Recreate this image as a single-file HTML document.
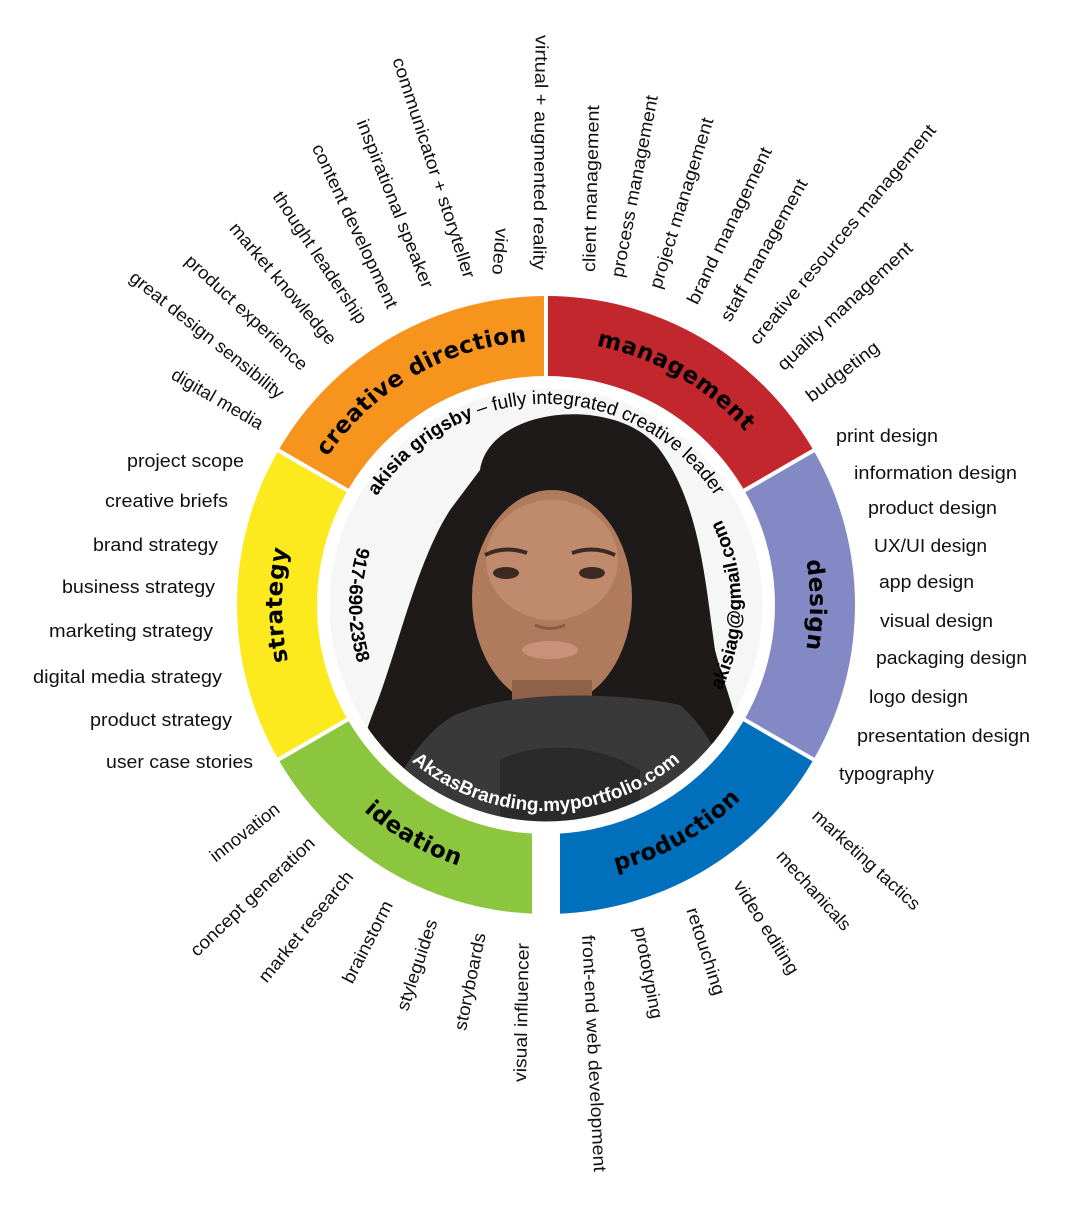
<!DOCTYPE html>
<html><head><meta charset="utf-8"><style>
html,body{margin:0;padding:0;background:#fff;}
svg{display:block;}
.l{font-family:"Liberation Sans",sans-serif;font-size:18px;fill:#111;}
.seg{font-family:"DejaVu Sans",sans-serif;font-weight:bold;font-size:23px;letter-spacing:0.5px;fill:#000;}
.band{font-family:"Liberation Sans",sans-serif;font-size:19px;fill:#000;}
</style></head><body>
<svg width="1066" height="1210" viewBox="0 0 1066 1210" xmlns="http://www.w3.org/2000/svg">
<defs>
<clipPath id="pc"><circle cx="546" cy="605" r="218"/></clipPath>
<path id="pcd" d="M317.4,473 A264,264 0 0 1 546,341"/>
<path id="pmg" d="M546,341 A264,264 0 0 1 774.6,473"/>
<path id="pds" d="M774.6,473 A264,264 0 0 1 774.6,737"/>
<path id="pst" d="M317.4,737 A264,264 0 0 1 317.4,473"/>
<path id="ppr" d="M546,880 A275,275 0 0 0 784.2,742.5"/>
<path id="pid" d="M307.8,742.5 A275,275 0 0 0 546,880"/>
<path id="pname" d="M351.8,553 A201,201 0 0 1 740.2,553"/>
<path id="pphone" d="M360.9,537.6 A197,197 0 0 0 360.9,672.4"/>
<path id="pmail" d="M714.9,702.5 A195,195 0 0 0 714.9,507.5"/>
<path id="pweb" d="M388.2,737.4 A206,206 0 0 0 703.8,737.4"/>
</defs>

<path fill="#F7941D" d="M546,296 A309,309 0 0 0 278.4,450.5 L348.5,491 A228,228 0 0 1 546,377 Z"/>
<path fill="#C1272D" d="M813.6,450.5 A309,309 0 0 0 546,296 L546,377 A228,228 0 0 1 743.5,491 Z"/>
<path fill="#8289C4" d="M813.6,759.5 A309,309 0 0 0 813.6,450.5 L743.5,491 A228,228 0 0 1 743.5,719 Z"/>
<path fill="#0070BC" d="M546,914 A309,309 0 0 0 813.6,759.5 L743.5,719 A228,228 0 0 1 546,833 Z"/>
<path fill="#8CC63F" d="M278.4,759.5 A309,309 0 0 0 546,914 L546,833 A228,228 0 0 1 348.5,719 Z"/>
<path fill="#FCEA1F" d="M278.4,450.5 A309,309 0 0 0 278.4,759.5 L348.5,719 A228,228 0 0 1 348.5,491 Z"/>
<g stroke="#fff" stroke-width="4">
<line x1="546" y1="605" x2="546" y2="285"/>
<line x1="546" y1="605" x2="823" y2="445"/>
<line x1="546" y1="605" x2="823" y2="765"/>
<line x1="546" y1="605" x2="269" y2="445"/>
<line x1="546" y1="605" x2="269" y2="765"/>
</g>
<rect x="532" y="800" width="28" height="120" fill="#fff"/>
<circle cx="546" cy="605" r="229" fill="#fff"/>

<g clip-path="url(#pc)">
<rect x="320" y="380" width="460" height="460" fill="#f6f6f6"/>
<path fill="#1d1a19" d="M480,470 C490,405 620,395 660,450 C700,505 705,580 715,650 C728,700 750,740 738,790 L725,840 L362,840 C345,790 362,740 378,700 C400,640 418,560 450,510 Z"/>
<ellipse cx="552" cy="598" rx="80" ry="108" fill="#b07a5c"/>
<ellipse cx="552" cy="560" rx="66" ry="60" fill="#c08a6c"/>
<path fill="#1d1a19" d="M470,540 C480,470 530,450 560,455 C610,455 640,490 640,540 C620,500 580,480 555,482 C520,482 485,505 470,540 Z"/>
<rect x="512" y="680" width="80" height="40" fill="#8f6149"/>
<path fill="#3a3939" d="M440,725 C480,690 610,690 680,705 C720,740 740,800 730,840 L370,840 C390,790 410,750 440,725 Z"/>
<path fill="#2a2a2a" d="M500,760 C540,740 600,745 640,770 L640,840 L500,840 Z"/>
<g fill="#3b2a22"><ellipse cx="506" cy="573" rx="13" ry="6"/><ellipse cx="592" cy="573" rx="13" ry="6"/></g>
<g stroke="#3a2a22" stroke-width="4" fill="none"><path d="M485,555 Q505,545 527,553"/><path d="M572,553 Q594,545 615,555"/></g>
<ellipse cx="550" cy="650" rx="28" ry="9" fill="#c9917a"/>
<path d="M535,625 Q550,632 565,625" stroke="#8a5a44" stroke-width="3" fill="none"/>
</g>
<circle cx="546" cy="605" r="218" fill="none" stroke="#fff" stroke-width="3"/>

<text class="seg"><textPath href="#pcd" startOffset="50%" text-anchor="middle">creative direction</textPath></text>
<text class="seg"><textPath href="#pmg" startOffset="50%" text-anchor="middle">management</textPath></text>
<text class="seg"><textPath href="#pds" startOffset="50%" text-anchor="middle">design</textPath></text>
<text class="seg"><textPath href="#pst" startOffset="50%" text-anchor="middle">strategy</textPath></text>
<text class="seg"><textPath href="#ppr" startOffset="50%" text-anchor="middle">production</textPath></text>
<text class="seg"><textPath href="#pid" startOffset="50%" text-anchor="middle">ideation</textPath></text>

<text class="band"><textPath href="#pname" startOffset="50%" text-anchor="middle"><tspan font-weight="bold">akisia grigsby</tspan> – fully integrated creative leader</textPath></text>
<text class="band" font-weight="bold"><textPath href="#pphone" startOffset="50%" text-anchor="middle">917-690-2358</textPath></text>
<text class="band" font-weight="bold"><textPath href="#pmail" startOffset="50%" text-anchor="middle">akisiag@gmail.com</textPath></text>
<text class="band" font-weight="bold" style="fill:#fff"><textPath href="#pweb" startOffset="50%" text-anchor="middle">AkzasBranding.myportfolio.com</textPath></text>

<g class="l">
<text transform="translate(541.7,35) rotate(90.6)" dy="6" textLength="235" lengthAdjust="spacingAndGlyphs">virtual + augmented reality</text>
<text transform="translate(502,228) rotate(94.9)" dy="6" textLength="47" lengthAdjust="spacingAndGlyphs">video</text>
<text transform="translate(398,58) rotate(71.9)" dy="6" textLength="231" lengthAdjust="spacingAndGlyphs">communicator + storyteller</text>
<text transform="translate(362,120) rotate(68.4)" dy="6" textLength="180" lengthAdjust="spacingAndGlyphs">inspirational speaker</text>
<text transform="translate(317,145) rotate(64.9)" dy="6" textLength="179" lengthAdjust="spacingAndGlyphs">content development</text>
<text transform="translate(277,193) rotate(56.3)" dy="6" textLength="155" lengthAdjust="spacingAndGlyphs">thought leadership</text>
<text transform="translate(233,225) rotate(49.5)" dy="6" textLength="154" lengthAdjust="spacingAndGlyphs">market knowledge</text>
<text transform="translate(188,258) rotate(43)" dy="6" textLength="160" lengthAdjust="spacingAndGlyphs">product experience</text>
<text transform="translate(132,275) rotate(38.7)" dy="6" textLength="192" lengthAdjust="spacingAndGlyphs">great design sensibility</text>
<text transform="translate(173,373) rotate(30.3)" dy="6" textLength="103" lengthAdjust="spacingAndGlyphs">digital media</text>

<text transform="translate(589,272) rotate(-88.6)" dy="6" textLength="167" lengthAdjust="spacingAndGlyphs">client management</text>
<text transform="translate(617,277) rotate(-79.1)" dy="6" textLength="185" lengthAdjust="spacingAndGlyphs">process management</text>
<text transform="translate(655,288) rotate(-72.7)" dy="6" textLength="178" lengthAdjust="spacingAndGlyphs">project management</text>
<text transform="translate(692,303) rotate(-64.2)" dy="6" textLength="172" lengthAdjust="spacingAndGlyphs">brand management</text>
<text transform="translate(725,320) rotate(-60.9)" dy="6" textLength="160" lengthAdjust="spacingAndGlyphs">staff management</text>
<text transform="translate(753,342) rotate(-50.2)" dy="6" textLength="280" lengthAdjust="spacingAndGlyphs">creative resources management</text>
<text transform="translate(780,367) rotate(-43.2)" dy="6" textLength="178" lengthAdjust="spacingAndGlyphs">quality management</text>
<text transform="translate(808,398) rotate(-37.5)" dy="6" textLength="87" lengthAdjust="spacingAndGlyphs">budgeting</text>

<text transform="translate(212,858) rotate(-38.1)" dy="6" textLength="83" lengthAdjust="spacingAndGlyphs">innovation</text>
<text transform="translate(193,953) rotate(-43.5)" dy="6" textLength="164" lengthAdjust="spacingAndGlyphs">concept generation</text>
<text transform="translate(262,980) rotate(-50.6)" dy="6" textLength="138" lengthAdjust="spacingAndGlyphs">market research</text>
<text transform="translate(347,982) rotate(-62.9)" dy="6" textLength="90" lengthAdjust="spacingAndGlyphs">brainstorm</text>
<text transform="translate(402,1010) rotate(-71.6)" dy="6" textLength="95" lengthAdjust="spacingAndGlyphs">styleguides</text>
<text transform="translate(460,1030) rotate(-78.4)" dy="6" textLength="99" lengthAdjust="spacingAndGlyphs">storyboards</text>
<text transform="translate(520,1082) rotate(-88.8)" dy="6" textLength="139" lengthAdjust="spacingAndGlyphs">visual influencer</text>

<text transform="translate(588,935) rotate(87.1)" dy="6" textLength="237" lengthAdjust="spacingAndGlyphs">front-end web development</text>
<text transform="translate(640,927) rotate(79.4)" dy="6" textLength="93" lengthAdjust="spacingAndGlyphs">prototyping</text>
<text transform="translate(692,908) rotate(72.2)" dy="6" textLength="91" lengthAdjust="spacingAndGlyphs">retouching</text>
<text transform="translate(738,882) rotate(58)" dy="6" textLength="107" lengthAdjust="spacingAndGlyphs">video editing</text>
<text transform="translate(780,853) rotate(47.8)" dy="6" textLength="101" lengthAdjust="spacingAndGlyphs">mechanicals</text>
<text transform="translate(815,813) rotate(42.4)" dy="6" textLength="139" lengthAdjust="spacingAndGlyphs">marketing tactics</text>

<text x="127" y="467" textLength="117" lengthAdjust="spacingAndGlyphs">project scope</text>
<text x="105" y="507" textLength="123" lengthAdjust="spacingAndGlyphs">creative briefs</text>
<text x="93" y="551" textLength="125" lengthAdjust="spacingAndGlyphs">brand strategy</text>
<text x="62" y="593" textLength="153" lengthAdjust="spacingAndGlyphs">business strategy</text>
<text x="49" y="637" textLength="164" lengthAdjust="spacingAndGlyphs">marketing strategy</text>
<text x="33" y="683" textLength="189" lengthAdjust="spacingAndGlyphs">digital media strategy</text>
<text x="90" y="726" textLength="142" lengthAdjust="spacingAndGlyphs">product strategy</text>
<text x="106" y="768" textLength="147" lengthAdjust="spacingAndGlyphs">user case stories</text>

<text x="836" y="442" textLength="102" lengthAdjust="spacingAndGlyphs">print design</text>
<text x="854" y="479" textLength="163" lengthAdjust="spacingAndGlyphs">information design</text>
<text x="868" y="514" textLength="129" lengthAdjust="spacingAndGlyphs">product design</text>
<text x="874" y="552" textLength="113" lengthAdjust="spacingAndGlyphs">UX/UI design</text>
<text x="879" y="588" textLength="95" lengthAdjust="spacingAndGlyphs">app design</text>
<text x="880" y="627" textLength="113" lengthAdjust="spacingAndGlyphs">visual design</text>
<text x="876" y="664" textLength="151" lengthAdjust="spacingAndGlyphs">packaging design</text>
<text x="869" y="703" textLength="99" lengthAdjust="spacingAndGlyphs">logo design</text>
<text x="857" y="742" textLength="173" lengthAdjust="spacingAndGlyphs">presentation design</text>
<text x="839" y="780" textLength="95" lengthAdjust="spacingAndGlyphs">typography</text>
</g>
</svg>
</body></html>
